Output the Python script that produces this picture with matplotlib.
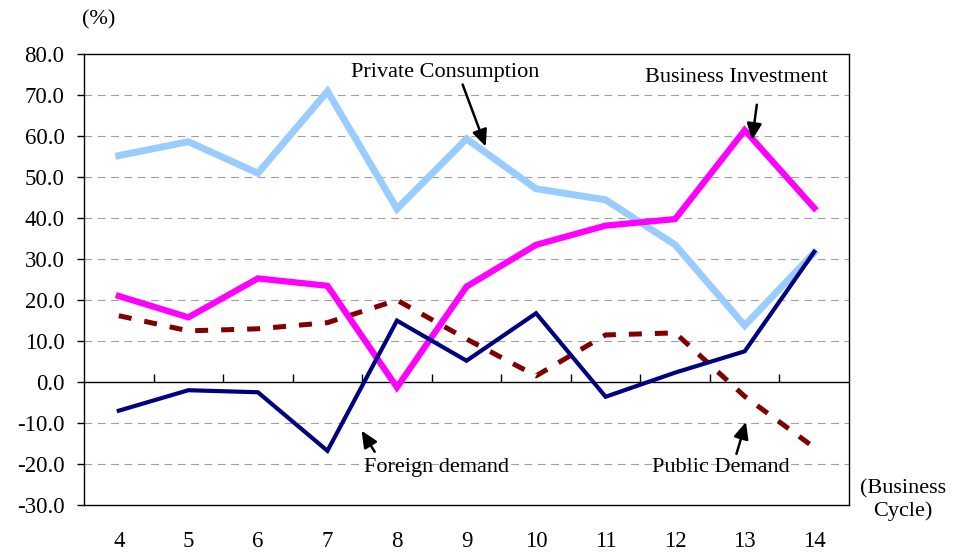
import numpy as np
import matplotlib.pyplot as plt

plt.rcParams['font.family'] = ['Liberation Serif', 'DejaVu Serif']

# contribution shares by business cycle (%)
cycles = [4, 5, 6, 7, 8, 9, 10, 11, 12, 13, 14]
private_consumption = [55.3, 58.7, 51.0, 71.0, 42.3, 59.4, 47.2, 44.5, 33.5, 13.8, 31.6]
business_investment = [21.0, 15.8, 25.3, 23.5, -1.3, 23.3, 33.5, 38.2, 39.8, 61.5, 42.5]
foreign_demand = [-7.0, -2.0, -2.5, -16.8, 15.0, 5.2, 16.8, -3.6, 2.3, 7.5, 31.8]
public_demand = [16.2, 12.5, 13.0, 14.5, 20.0, 10.5, 1.5, 11.5, 12.0, -3.5, -16.0]

fig = plt.figure(figsize=(9.55, 5.56), dpi=100)
ax = fig.add_axes([0.088, 0.092, 0.801, 0.81])

# grid
for v in range(-20, 80, 10):
    if v != 0:
        ax.axhline(v, color='#a0a0a0', lw=0.8, ls=(0, (7, 5)), zorder=0)
ax.axhline(0, color='black', lw=1.0, zorder=1)

ax.plot(cycles, private_consumption, color='#99ccff', lw=5.0, solid_joinstyle='miter', zorder=3)
ax.plot(cycles, business_investment, color='#ff00ff', lw=4.5, solid_joinstyle='miter', zorder=3)
ax.plot(cycles, public_demand, color='#800000', lw=3.6, ls=(0, (2.6, 2.6)),
        dash_capstyle='butt', zorder=2)
ax.plot(cycles, foreign_demand, color='#000080', lw=3.0, solid_joinstyle='miter', zorder=4)

ax.set_xlim(cycles[0] - 0.5, cycles[-1] + 0.5)
ax.set_ylim(-30, 80)
ax.set_yticks(np.arange(-30, 81, 10))
ax.set_yticklabels([f'{v:.1f}' for v in np.arange(-30, 81, 10)])
ax.tick_params(axis='y', direction='out', length=5, width=1, labelsize=16.5, pad=9)
ax.set_xticks(cycles)
ax.set_xticklabels([str(c) for c in cycles])
ax.tick_params(axis='x', length=0, labelsize=16.5, pad=19)
for s in ax.spines.values():
    s.set_linewidth(1.0)

# category boundary ticks on the zero line
sec = ax.secondary_xaxis(30 / 110)
sec.set_xticks(np.array(cycles[:-1]) + 0.5)
sec.set_xticklabels([])
sec.tick_params(direction='in', length=6, width=1)
sec.spines['bottom'].set_visible(False)

arrow = dict(arrowstyle='-|>,head_length=1.0,head_width=0.45', color='black', lw=1.8)
fs = 16
ax.text(8.69, 75.7, 'Private Consumption', fontsize=fs, ha='center', va='center')
ax.annotate('', xy=(9.29, 56.9), xytext=(8.93, 73.3), arrowprops=arrow)
ax.text(12.88, 74.5, 'Business Investment', fontsize=fs, ha='center', va='center')
ax.annotate('', xy=(13.10, 58.4), xytext=(13.18, 68.4), arrowprops=arrow)
ax.text(8.57, -20.9, 'Foreign demand', fontsize=fs, ha='center', va='center')
ax.annotate('', xy=(7.47, -11.3), xytext=(7.70, -17.6), arrowprops=arrow)
ax.text(12.65, -20.9, 'Public Demand', fontsize=fs, ha='center', va='center')
ax.annotate('', xy=(13.03, -9.1), xytext=(12.87, -18.2), arrowprops=arrow)

fig.text(99 / 955, 1 - 20 / 556, '(%)', fontsize=fs, ha='center', va='center')
fig.text(903 / 955, 1 - 500 / 556, '(Business\nCycle)', fontsize=fs, ha='center', va='center',
         linespacing=1.2)

fig.savefig('out.png', dpi=100)
